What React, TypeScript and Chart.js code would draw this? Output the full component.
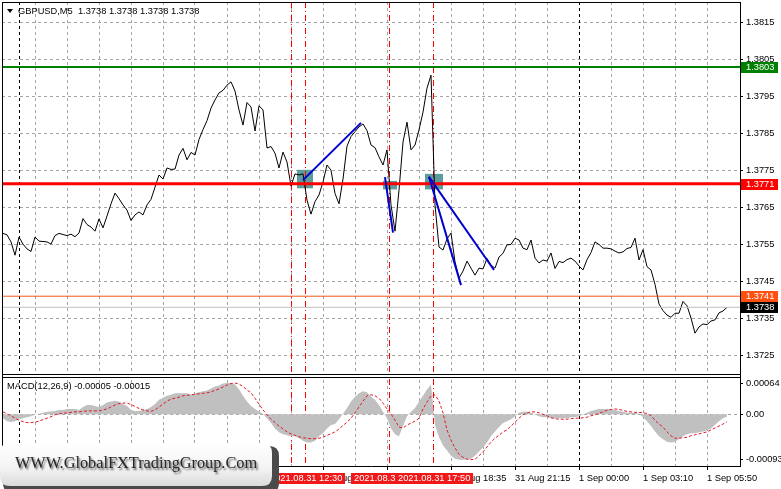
import React, { useEffect, useRef } from 'react';
import { Chart, registerables } from 'chart.js';

Chart.register(...registerables);

const W = 781;
const H = 489;
const FONT = '"Liberation Sans", Arial, sans-serif';

// GBPUSD M5 closes, one sample every 2 bars (10 minutes), bar index = sample * BAR_STEP
const BAR_STEP = 2;
const closePrices = [
  1.37580, 1.37576, 1.37557, 1.37521, 1.37570, 1.37551, 1.37538, 1.37531, 1.37570, 1.37559,
  1.37558, 1.37557, 1.37551, 1.37574, 1.37580, 1.37577, 1.37574, 1.37578, 1.37571, 1.37581,
  1.37620, 1.37604, 1.37597, 1.37586, 1.37619, 1.37595, 1.37627, 1.37660, 1.37689, 1.37674,
  1.37657, 1.37643, 1.37615, 1.37630, 1.37638, 1.37630, 1.37657, 1.37672, 1.37705, 1.37738,
  1.37727, 1.37757, 1.37753, 1.37754, 1.37792, 1.37810, 1.37779, 1.37799, 1.37792, 1.37834,
  1.37861, 1.37885, 1.37919, 1.37941, 1.37960, 1.37967, 1.37981, 1.37990, 1.37965, 1.37914,
  1.37873, 1.37934, 1.37922, 1.37857, 1.37925, 1.37914, 1.37811, 1.37815, 1.37797, 1.37757,
  1.37800, 1.37773, 1.37708, 1.37741, 1.37738, 1.37741, 1.37670, 1.37632, 1.37666, 1.37684,
  1.37719, 1.37765, 1.37751, 1.37688, 1.37660, 1.37727, 1.37816, 1.37842, 1.37855, 1.37868,
  1.37876, 1.37858, 1.37819, 1.37812, 1.37787, 1.37765, 1.37806, 1.37657, 1.37586, 1.37697,
  1.37827, 1.37881, 1.37806, 1.37819, 1.37860, 1.37908, 1.37973, 1.38008, 1.37657, 1.37543,
  1.37535, 1.37565, 1.37581, 1.37503, 1.37459, 1.37478, 1.37505, 1.37486, 1.37467, 1.37486,
  1.37484, 1.37512, 1.37494, 1.37486, 1.37516, 1.37526, 1.37549, 1.37550, 1.37567, 1.37562,
  1.37540, 1.37536, 1.37562, 1.37513, 1.37500, 1.37508, 1.37505, 1.37527, 1.37485, 1.37504,
  1.37501, 1.37509, 1.37513, 1.37505, 1.37492, 1.37481, 1.37509, 1.37528, 1.37557, 1.37550,
  1.37540, 1.37540, 1.37538, 1.37532, 1.37527, 1.37530, 1.37539, 1.37542, 1.37567, 1.37508,
  1.37536, 1.37490, 1.37481, 1.37442, 1.37389, 1.37371, 1.37359, 1.37353, 1.37364, 1.37364,
  1.37396, 1.37384, 1.37351, 1.37310, 1.37327, 1.37335, 1.37333, 1.37343, 1.37346, 1.37365,
  1.37370, 1.37380,
];

// MACD(12,26,9) main (histogram) and signal, same sampling
const macdMain = [
  -0.00008, -0.00014, -0.00016, -0.00014, -0.00010, -0.00008, -0.00006, -0.00004, -0.00001, 0.00001,
  0.00003, 0.00005, 0.00006, 0.00007, 0.00009, 0.00009, 0.00011, 0.00011, 0.00011, 0.00009,
  0.00015, 0.00019, 0.00019, 0.00017, 0.00015, 0.00019, 0.00024, 0.00026, 0.00028, 0.00026,
  0.00021, 0.00017, 0.00009, 0.00007, 0.00007, 0.00009, 0.00011, 0.00015, 0.00021, 0.00030,
  0.00034, 0.00038, 0.00040, 0.00043, 0.00043, 0.00043, 0.00043, 0.00040, 0.00043, 0.00045,
  0.00047, 0.00049, 0.00053, 0.00057, 0.00059, 0.00063, 0.00064, 0.00064, 0.00061, 0.00051,
  0.00038, 0.00026, 0.00017, 0.00011, 0.00005, 0.00001, -0.00008, -0.00018, -0.00029, -0.00037,
  -0.00041, -0.00043, -0.00045, -0.00045, -0.00049, -0.00054, -0.00058, -0.00058, -0.00054, -0.00045,
  -0.00039, -0.00029, -0.00022, -0.00020, -0.00010, 0.00001, 0.00013, 0.00026, 0.00036, 0.00043,
  0.00047, 0.00045, 0.00036, 0.00030, 0.00019, 0.00005, -0.00008, -0.00029, -0.00041, -0.00045,
  -0.00024, -0.00004, 0.00005, 0.00013, 0.00026, 0.00038, 0.00051, 0.00061, -0.00022, -0.00047,
  -0.00064, -0.00074, -0.00085, -0.00091, -0.00093, -0.00093, -0.00093, -0.00091, -0.00085, -0.00076,
  -0.00068, -0.00058, -0.00045, -0.00035, -0.00026, -0.00018, -0.00014, -0.00010, -0.00004, 0.00003,
  0.00005, 0.00005, 0.00003, -0.00001, -0.00004, -0.00006, -0.00006, -0.00008, -0.00008, -0.00008,
  -0.00008, -0.00008, -0.00006, -0.00006, -0.00004, -0.00001, 0.00003, 0.00007, 0.00009, 0.00011,
  0.00011, 0.00011, 0.00011, 0.00009, 0.00007, 0.00005, 0.00003, 0.00003, 0.00003, 0.00001,
  -0.00006, -0.00014, -0.00024, -0.00035, -0.00045, -0.00051, -0.00056, -0.00058, -0.00056, -0.00051,
  -0.00045, -0.00041, -0.00039, -0.00039, -0.00037, -0.00035, -0.00033, -0.00029, -0.00022, -0.00014,
  -0.00008, -0.00005,
];
const macdSignal = [
  0.00005, 0.00001, -0.00003, -0.00008, -0.00012, -0.00015, -0.00017, -0.00017, -0.00016, -0.00014,
  -0.00011, -0.00008, -0.00005, -0.00001, 0.00001, 0.00002, 0.00003, 0.00004, 0.00005, 0.00005,
  0.00006, 0.00007, 0.00007, 0.00007, 0.00007, 0.00009, 0.00011, 0.00015, 0.00019, 0.00022,
  0.00023, 0.00023, 0.00020, 0.00016, 0.00012, 0.00009, 0.00007, 0.00006, 0.00009, 0.00015,
  0.00021, 0.00027, 0.00031, 0.00033, 0.00035, 0.00038, 0.00039, 0.00040, 0.00041, 0.00042,
  0.00043, 0.00044, 0.00046, 0.00049, 0.00052, 0.00056, 0.00060, 0.00063, 0.00064, 0.00062,
  0.00057, 0.00050, 0.00044, 0.00033, 0.00021, 0.00009, -0.00001, -0.00010, -0.00017, -0.00024,
  -0.00030, -0.00036, -0.00040, -0.00043, -0.00046, -0.00048, -0.00049, -0.00050, -0.00050, -0.00049,
  -0.00047, -0.00043, -0.00040, -0.00036, -0.00030, -0.00023, -0.00016, -0.00008, 0.00003, 0.00015,
  0.00027, 0.00038, 0.00040, 0.00038, 0.00033, 0.00023, 0.00011, 0.00001, -0.00012, -0.00026,
  -0.00028, -0.00022, -0.00018, -0.00014, -0.00008, 0.00011, 0.00025, 0.00038, 0.00040, 0.00027,
  0.00003, -0.00032, -0.00053, -0.00069, -0.00082, -0.00088, -0.00092, -0.00093, -0.00092, -0.00085,
  -0.00077, -0.00067, -0.00057, -0.00049, -0.00043, -0.00036, -0.00032, -0.00024, -0.00016, -0.00008,
  -0.00001, 0.00003, 0.00005, 0.00005, 0.00003, 0.00000, -0.00003, -0.00007, -0.00009, -0.00010,
  -0.00010, -0.00010, -0.00009, -0.00008, -0.00008, -0.00007, -0.00006, -0.00003, -0.00001, 0.00002,
  0.00005, 0.00008, 0.00010, 0.00011, 0.00010, 0.00008, 0.00006, 0.00005, 0.00004, 0.00004,
  0.00003, 0.00002, -0.00003, -0.00012, -0.00020, -0.00026, -0.00036, -0.00044, -0.00049, -0.00049,
  -0.00048, -0.00047, -0.00044, -0.00042, -0.00040, -0.00038, -0.00036, -0.00032, -0.00028, -0.00024,
  -0.00020, -0.00015,
];

const priceTicks = [1.3725, 1.3735, 1.3745, 1.3755, 1.3765, 1.3775, 1.3785, 1.3795, 1.3805, 1.3815];
const macdTicks = [0.00064, 0, -0.00093];
const gridBars = [0, 16, 32, 48, 64, 80, 96, 112, 128, 144, 160, 176, 192, 208, 224, 240, 256, 272, 288, 304, 320, 336, 352];
const timeTickBars = [0, 32, 64, 96, 128, 160, 192, 224, 256, 288, 320, 352];
const timeTickLabels = [
  '30 Aug 23:20', '31 Aug 02:05', '31 Aug 04:50', '31 Aug 07:35', '31 Aug 10:25', '31 Aug 13:15',
  '31 Aug 15:55', '31 Aug 18:35', '31 Aug 21:15', '1 Sep 00:00', '1 Sep 03:10', '1 Sep 05:50',
];

const levelPrices = [1.3738, 1.3741, 1.37714, 1.3803];
const levelLabels = ['1.3738', '1.3741', '1.3771', '1.3803'];
const vlineBars = [144, 151, 193, 215];
const vlineLabels = ['2021.08.31 11:55', '2021.08.31 12:30', '2021.08.31 16:00', '2021.08.31 17:50'];
const separatorBars = [8, 288];
const trendFrom = [[150, 1.37724], [191, 1.37732], [213, 1.37733], [213, 1.37733]];
const trendTo = [[179, 1.37879], [195, 1.37582], [229, 1.37440], [245.5, 1.37481]];
const zoneBars = [[147, 155], [190, 197], [211, 220]];
const zonePrices = [[1.37702, 1.37752], [1.37699, 1.37722], [1.37699, 1.37741]];

const symbolTitle = 'GBPUSD,M5  1.3738 1.3738 1.3738 1.3738';
const macdTitle = 'MACD(12,26,9) -0.00005 -0.00015';
const watermarkText = 'WWW.GlobalFXTradingGroup.Com';

const X_MIN = -0.5;
const X_MAX = 368.5;
const PRICE_MIN = 1.371955;
const PRICE_MAX = 1.38206;
const MACD_MIN = -0.001059;
const MACD_MAX = 0.000795;

const levelColor = ['#c0c0c0', '#f0571a', '#ff0000', '#008000'];
const levelWidth = [1, 1, 3, 2];
const tagColor = ['#000000', '#ff5010', '#ff0000', '#008000'];
const GRID = '#a4a4a4';

function roundRectPath(ctx, x, y, w, h, r) {
  ctx.beginPath();
  ctx.moveTo(x + r, y);
  ctx.lineTo(x + w - r, y);
  ctx.quadraticCurveTo(x + w, y, x + w, y + r);
  ctx.lineTo(x + w, y + h - r);
  ctx.quadraticCurveTo(x + w, y + h, x + w - r, y + h);
  ctx.lineTo(x + r, y + h);
  ctx.quadraticCurveTo(x, y + h, x, y + h - r);
  ctx.lineTo(x, y + r);
  ctx.quadraticCurveTo(x, y, x + r, y);
  ctx.closePath();
}

function vline(ctx, px, y0, y1) {
  ctx.beginPath();
  ctx.moveTo(px, y0);
  ctx.lineTo(px, y1);
  ctx.stroke();
}
function hline(ctx, py, x0, x1) {
  ctx.beginPath();
  ctx.moveTo(x0, py);
  ctx.lineTo(x1, py);
  ctx.stroke();
}

const overlayPlugin = {
  id: 'mt4overlay',
  beforeDatasetsDraw(chart) {
    const { ctx, chartArea: a } = chart;
    const xs = chart.scales.x;
    const ys = chart.scales.y;
    const ms = chart.scales.macd;
    ctx.save();
    ctx.lineWidth = 1;
    // grid (dashed silver)
    ctx.strokeStyle = GRID;
    ctx.setLineDash([3, 3]);
    gridBars.forEach((b) => {
      if (b === 0) return;
      vline(ctx, Math.floor(xs.getPixelForValue(b)) + 0.5, a.top, a.bottom);
    });
    priceTicks.forEach((p) => {
      hline(ctx, Math.floor(ys.getPixelForValue(p)) + 0.5, a.left, a.right);
    });
    hline(ctx, Math.floor(ms.getPixelForValue(0)) + 0.5, a.left, a.right);
    // tick marks
    ctx.setLineDash([]);
    ctx.strokeStyle = '#000';
    timeTickBars.forEach((b) => {
      vline(ctx, Math.floor(xs.getPixelForValue(b)) + 0.5, a.bottom, a.bottom + 4);
    });
    priceTicks.forEach((p) => {
      hline(ctx, Math.floor(ys.getPixelForValue(p)) + 0.5, a.right, a.right + 3);
    });
    macdTicks.forEach((p) => {
      hline(ctx, Math.floor(ms.getPixelForValue(p)) + 0.5, a.right, a.right + 3);
    });
    // period separators
    ctx.strokeStyle = '#000';
    ctx.setLineDash([3, 3]);
    separatorBars.forEach((b) => {
      vline(ctx, Math.floor(xs.getPixelForValue(b)) + 0.5, a.top, a.bottom);
    });
    // zones
    ctx.setLineDash([]);
    ctx.fillStyle = '#5c9c9c';
    zoneBars.forEach((zb, k) => {
      const x0 = xs.getPixelForValue(zb[0]);
      const x1 = xs.getPixelForValue(zb[1]);
      const y0 = ys.getPixelForValue(zonePrices[k][1]);
      const y1 = ys.getPixelForValue(zonePrices[k][0]);
      ctx.fillRect(x0, y0, x1 - x0, y1 - y0);
    });
    // vertical lines (dash-dot red)
    ctx.strokeStyle = '#ff0000';
    ctx.setLineDash([6, 3, 1, 3]);
    vlineBars.forEach((b) => {
      vline(ctx, Math.floor(xs.getPixelForValue(b)) + 0.5, a.top, a.bottom);
    });
    ctx.restore();
  },
  afterDraw(chart) {
    const { ctx, chartArea: a } = chart;
    const xs = chart.scales.x;
    const ys = chart.scales.y;
    ctx.save();
    // pane separator + frame
    ctx.fillStyle = '#fff';
    ctx.fillRect(a.left, 375, a.right - a.left, 2);
    ctx.strokeStyle = '#000';
    ctx.lineWidth = 1;
    ctx.beginPath();
    ctx.moveTo(a.left, 374.5); ctx.lineTo(a.right, 374.5);
    ctx.moveTo(a.left, 377.5); ctx.lineTo(a.right, 377.5);
    ctx.moveTo(a.left + 0.5, a.top); ctx.lineTo(a.left + 0.5, a.bottom);
    ctx.moveTo(a.left, a.top + 0.5); ctx.lineTo(a.right, a.top + 0.5);
    ctx.moveTo(a.right + 0.5, a.top); ctx.lineTo(a.right + 0.5, a.bottom);
    ctx.stroke();

    // titles
    ctx.fillStyle = '#000';
    ctx.beginPath();
    ctx.moveTo(7, 9); ctx.lineTo(13, 9); ctx.lineTo(10, 13); ctx.closePath();
    ctx.fill();
    ctx.font = `9.3px ${FONT}`;
    ctx.textBaseline = 'middle';
    ctx.textAlign = 'left';
    ctx.fillText(symbolTitle, 18, 11);
    ctx.fillText(macdTitle, 7, 386);

    // price tags on the axis
    levelPrices.forEach((p, k) => {
      const py = ys.getPixelForValue(p);
      ctx.fillStyle = tagColor[k];
      ctx.fillRect(741, Math.round(py) - 5, 37, 11);
      ctx.fillStyle = '#fff';
      ctx.fillText(levelLabels[k], 746, Math.round(py) + 0.5);
    });

    // vertical line time labels
    vlineBars.forEach((b, k) => {
      const px = xs.getPixelForValue(b);
      const tw = ctx.measureText(vlineLabels[k]).width;
      const bx = Math.round(px + 1 - tw / 2 - 3);
      ctx.fillStyle = '#f01818';
      ctx.fillRect(bx, 473, Math.round(tw + 6), 11);
      ctx.fillStyle = '#fff';
      ctx.fillText(vlineLabels[k], bx + 3, 478.5);
    });

    // watermark
    ctx.fillStyle = '#4a4a4a';
    roundRectPath(ctx, 3, 446, 276, 47, 10);
    ctx.fill();
    const g = ctx.createLinearGradient(0, 443, 0, 487);
    g.addColorStop(0, '#ffffff');
    g.addColorStop(0.6, '#f2f2f2');
    g.addColorStop(1, '#d9d9d9');
    ctx.fillStyle = g;
    roundRectPath(ctx, 0, 443, 272, 43, 10);
    ctx.fill();
    ctx.font = '16.3px "Liberation Serif", "Times New Roman", serif';
    ctx.textBaseline = 'alphabetic';
    ctx.shadowColor = 'rgba(0,0,0,0.6)';
    ctx.shadowOffsetX = 1.5;
    ctx.shadowOffsetY = 1.5;
    ctx.shadowBlur = 2;
    ctx.fillStyle = '#262626';
    ctx.fillText(watermarkText, 15, 468);
    ctx.restore();
  },
};

function buildConfig() {
  const datasets = [];
  trendFrom.forEach((f, k) => {
    datasets.push({
      type: 'line',
      label: 'trend' + k,
      data: [{ x: f[0], y: f[1] }, { x: trendTo[k][0], y: trendTo[k][1] }],
      borderColor: '#0000cd',
      borderWidth: 2,
      pointRadius: 0,
      xAxisID: 'x',
      yAxisID: 'y',
      order: 0,
    });
  });
  levelPrices.forEach((p, k) => {
    datasets.push({
      type: 'line',
      label: 'level' + k,
      data: [{ x: X_MIN, y: p }, { x: X_MAX, y: p }],
      borderColor: levelColor[k],
      borderWidth: levelWidth[k],
      pointRadius: 0,
      xAxisID: 'x',
      yAxisID: 'y',
      order: 1,
    });
  });
  datasets.push({
    type: 'line',
    label: 'GBPUSD',
    data: closePrices.map((v, j) => ({ x: j * BAR_STEP, y: v })),
    borderColor: '#000',
    borderWidth: 1,
    pointRadius: 0,
    tension: 0,
    xAxisID: 'x',
    yAxisID: 'y',
    order: 2,
  });
  datasets.push({
    type: 'line',
    label: 'Signal',
    data: macdSignal.map((v, j) => ({ x: j * BAR_STEP, y: v })),
    borderColor: '#e21b2b',
    borderWidth: 1,
    borderDash: [3, 2],
    pointRadius: 0,
    xAxisID: 'x',
    yAxisID: 'macd',
    order: 3,
  });
  datasets.push({
    type: 'line',
    label: 'MACD',
    data: macdMain.map((v, j) => ({ x: j * BAR_STEP, y: v })),
    backgroundColor: '#c0c0c0',
    borderColor: 'rgba(0,0,0,0)',
    borderWidth: 0,
    pointRadius: 0,
    fill: 'origin',
    xAxisID: 'x',
    yAxisID: 'macd',
    order: 4,
  });

  const tickFont = { family: FONT, size: 9.3 };
  const noGrid = {
    drawOnChartArea: false,
    drawTicks: true,
    tickLength: 4,
    color: 'rgba(0,0,0,0)',
    tickColor: 'rgba(0,0,0,0)',
  };
  return {
    type: 'line',
    data: { datasets },
    options: {
      responsive: false,
      maintainAspectRatio: false,
      animation: false,
      devicePixelRatio: 1,
      events: [],
      layout: { padding: { left: 2, top: 2, right: 0, bottom: 0 }, autoPadding: false },
      plugins: { legend: { display: false }, tooltip: { enabled: false }, title: { display: false }, filler: { propagate: false } },
      scales: {
        x: {
          type: 'linear',
          position: 'bottom',
          min: X_MIN,
          max: X_MAX,
          offset: false,
          bounds: 'data',
          afterBuildTicks: (s) => { s.ticks = gridBars.map((v) => ({ value: v })); },
          afterFit: (s) => { s.height = 23; s.paddingLeft = 0; s.paddingRight = 0; },
          ticks: {
            autoSkip: false,
            maxRotation: 0,
            minRotation: 0,
            align: 'start',
            padding: 3,
            color: '#000',
            font: tickFont,
            callback: (v) => {
              const k = timeTickBars.indexOf(v);
              return k >= 0 ? timeTickLabels[k] : '';
            },
          },
          grid: noGrid,
          border: { display: true, color: '#000', width: 1 },
        },
        y: {
          type: 'linear',
          position: 'right',
          stack: 'panes',
          stackWeight: 373.5,
          min: PRICE_MIN,
          max: PRICE_MAX,
          bounds: 'data',
          afterBuildTicks: (s) => { s.ticks = priceTicks.map((v) => ({ value: v })); },
          afterFit: (s) => { s.width = 41; s.paddingTop = 0; s.paddingBottom = 0; },
          ticks: { padding: 2, color: '#000', font: tickFont, callback: (v) => Number(v).toFixed(4) },
          grid: noGrid,
          border: { display: true, color: '#000', width: 1 },
        },
        macd: {
          type: 'linear',
          position: 'right',
          stack: 'panes',
          stackWeight: 90.5,
          min: MACD_MIN,
          max: MACD_MAX,
          bounds: 'data',
          beginAtZero: false,
          afterBuildTicks: (s) => { s.ticks = macdTicks.map((v) => ({ value: v })); },
          afterFit: (s) => { s.width = 41; s.paddingTop = 0; s.paddingBottom = 0; },
          ticks: {
            padding: 2,
            color: '#000',
            font: tickFont,
            callback: (v) => (Number(v) === 0 ? '0.00' : Number(v).toFixed(5)),
          },
          grid: noGrid,
          border: { display: true, color: '#000', width: 1 },
        },
      },
    },
    plugins: [overlayPlugin],
  };
}

export default function App() {
  const ref = useRef(null);
  useEffect(() => {
    const chart = new Chart(ref.current, buildConfig());
    return () => chart.destroy();
  }, []);
  return (
    <div style={{ position: 'fixed', left: 0, top: 0, width: W, height: H, background: '#fff' }}>
      <canvas ref={ref} width={W} height={H} style={{ display: 'block', width: W, height: H }} />
    </div>
  );
}
